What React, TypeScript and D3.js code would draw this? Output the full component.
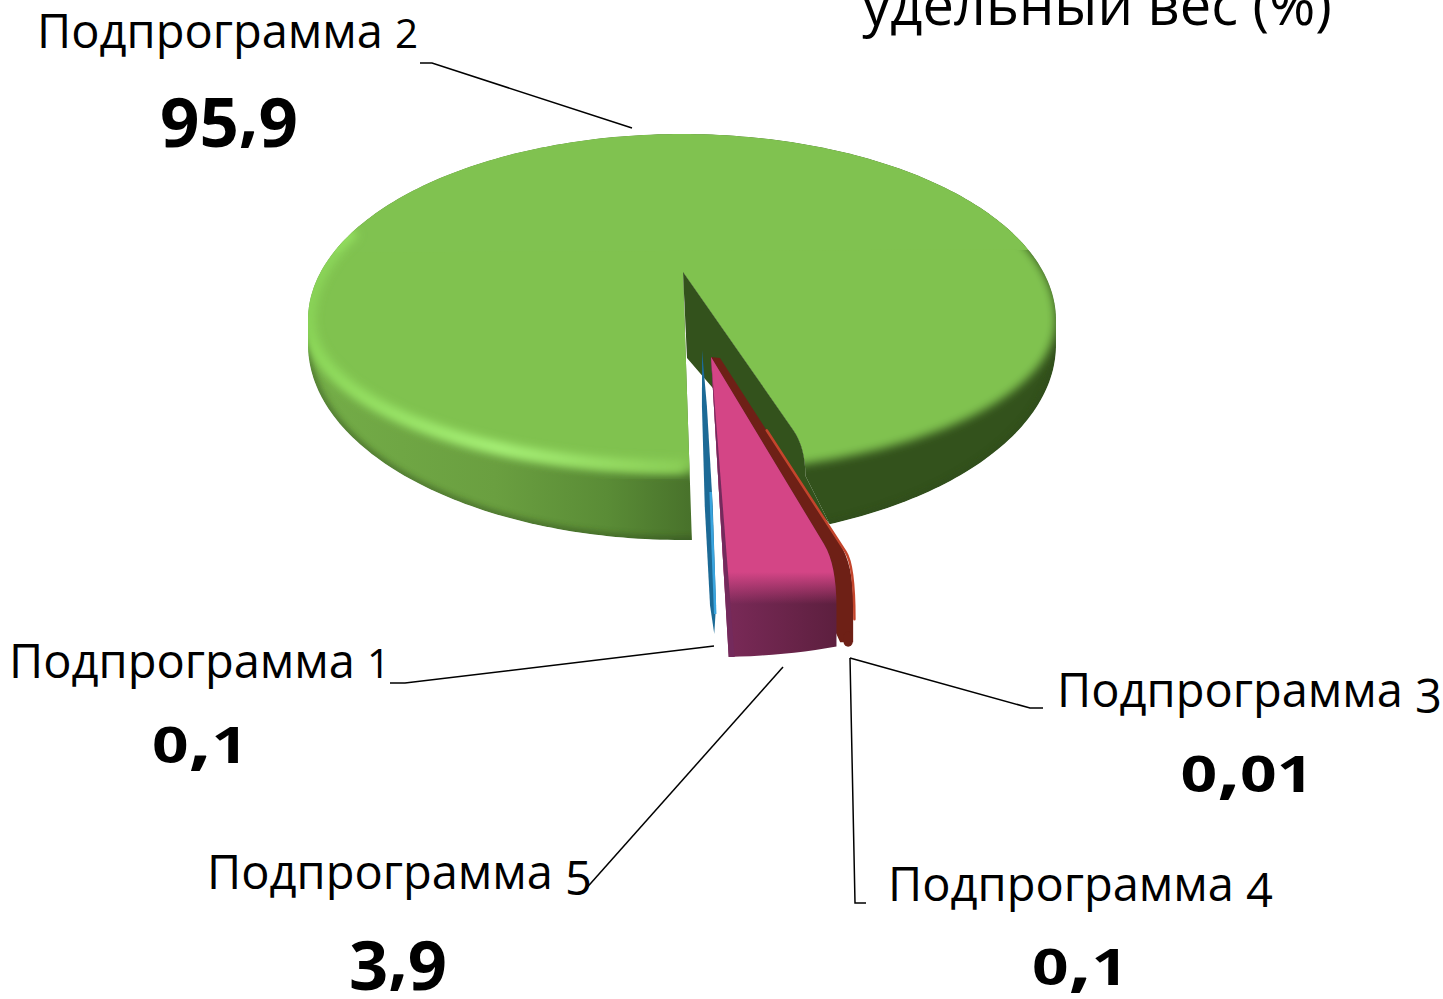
import React from 'react';
import * as d3 from 'd3';

const categories = ['Подпрограмма 1', 'Подпрограмма 2', 'Подпрограмма 3', 'Подпрограмма 4', 'Подпрограмма 5'];
const valueLabels = ['0,1', '95,9', '0,01', '0,1', '3,9'];
const values = [0.1, 95.9, 0.01, 0.1, 3.9];
const title = 'удельный вес (%)';

type P = [number, number];

const W = 1443, H = 999;
const cx = 682, cy = 320, rx = 374;
const ryBack = 186, ryRim = 152;
const baseCy = 345, baseRy = 195;
const apex: P = [683, 272];
const FONT = '"Open Sans", sans-serif';

// старт подобран так, чтобы зелёный сектор начинался у левого края выреза
const blueAngle = (2 * Math.PI * values[0]) / d3.sum(values);
const pieStart = Math.PI - 0.022 - blueAngle;
const slices = d3.pie<number>().sort(null).startAngle(pieStart).endAngle(pieStart + 2 * Math.PI)(values);

// разводим края выреза (перспектива исходной 3D-диаграммы)
const cut = (a: number) => Math.PI + ((a % (2 * Math.PI)) - Math.PI) * 1.2;
const rim = (a: number, ry: number, off: P = [0, 0]): P => {
  const c = -Math.cos(a);
  return [cx + off[0] + rx * Math.sin(a), cy + off[1] + (c < 0 ? ryBack : ry) * c];
};
const base = (a: number, off: P = [0, 0]): P => {
  const c = -Math.cos(a);
  return c < 0 ? rim(a, ryBack, off) : [cx + off[0] + rx * Math.sin(a), baseCy + off[1] + baseRy * c];
};
const lerp = (a: P, b: P, t: number): P => [a[0] + (b[0] - a[0]) * t, a[1] + (b[1] - a[1]) * t];
const add = (a: P, o: P): P => [a[0] + o[0], a[1] + o[1]];
const line = d3.line<P>();
const f = (p: P) => `${p[0]},${p[1]}`;
const turn = d3.range(0, 2 * Math.PI, 0.02);
const rimRing = line(turn.map(a => rim(a, ryRim)))! + 'Z';
const baseRing = line(turn.map(a => base(a)))! + 'Z';
// задняя часть диска без размытия, чтобы верхний край остался чистым
const backCap = line(d3.range(-1.2, 1.2, 0.02).map(a => rim(a, ryRim)))! + 'Z';

// ребро сектора со скруглённым углом
const edge = (from: P, a: number, off: P, ryEnd: number) => {
  const ctrl = rim(a, 135, off);
  return `M${f(from)}L${f(lerp(from, ctrl, 0.9))}Q${f(ctrl)} ${f(rim(a, ryEnd, off))}`;
};

const aL = cut(slices[1].startAngle);
const aR = cut(slices[1].endAngle);
const sideCorner = base(aR - 0.07);
const wallFoot = add(apex, [4, 86]);

const greenCut = `M0,0H${W}V${H}H0Z` +
  edge(apex, aR, [0, 0], 165) + `L${f(sideCorner)}L${f([sideCorner[0], 620])}L${f([base(aL)[0], 620])}L${f(base(aL))}Z`;
const wall = edge(apex, aR, [0, 0], 165) + `L${f(sideCorner)}L${f(wallFoot)}Z`;

// подпрограмма 5
const pinkOff: P = [34, 117];
const pinkApex = add(apex, [28, 85]);
const pA = cut(slices[4].startAngle), pB = cut(slices[4].endAngle);
const pinkBase = d3.range(0, 1.001, 0.1).map(t => base(pA + (pB - pA) * t, pinkOff));
const pinkPath = edge(pinkApex, pA, pinkOff, 180) + 'L' + pinkBase.map(f).join('L') + 'Z';
const pinkLeftEnd = base(pB, pinkOff);
const pinkStrip = line([pinkApex, pinkLeftEnd, add(pinkLeftEnd, [6, 0])])! + 'Z';

// подпрограммы 3 и 4
const brownOff: P = [48, 117];
const brownApex = add(apex, [37, 86]);
const brownA = cut(slices[3].startAngle);
const brownFoot = base(brownA, add(brownOff, [-3, -4]));
const brownPath = edge(brownApex, brownA, brownOff, 175) + `L${f(add(brownFoot, [3, 0]))}L${f(add(brownFoot, [-10, 0]))}L${f(pinkApex)}Z`;
const redA = cut(slices[2].startAngle);
const redPath = edge(lerp(brownApex, rim(redA, 135, brownOff), 0.35), redA, add(brownOff, [1, 1]), 192);

// подпрограмма 1
const blueApex = add(apex, [19, 78]);
const blueEnd = base(cut((slices[0].startAngle + slices[0].endAngle) / 2), [21, 94]);
const blueAt = (t: number, w: number) => add(lerp(blueApex, blueEnd, t), [w, 0]);
const bluePath = line([
  blueApex, blueAt(0.2, -2.5), blueAt(0.55, -4), blueAt(0.9, -3), blueEnd,
  blueAt(0.9, 3), blueAt(0.55, 4), blueAt(0.2, 2.5),
])! + 'Z';

const labelPos: P[] = [[9, 678], [37, 48], [1057, 707], [888, 901], [207, 889]];
const valuePos: P[] = [[200, 763], [229, 139], [1247, 792], [1080, 985], [398, 982]];
const valueWidth = [96, 138, 133, 96, 98];
const leaders: P[][] = [
  [[390, 683], [405, 683], [714, 646]],
  [[420, 63], [432, 63], [632, 128]],
  [[1043, 708], [1030, 708], [850, 658]],
  [[866, 903], [855, 903], [850, 658]],
  [[583, 892], [783, 667]],
];

// цифры исходного шрифта — старого стиля: 0, 1, 2 малые, 3, 4, 5, 9 опускаются
const OldStyle = ({ text, size, small }: { text: string; size: number; small: number }) => {
  const runs = text.match(/[012]+|[3459]+|[^0-9]+/g) || [];
  let shifted = false;
  return (
    <>
      {runs.map((run, i) => {
        const low = /[3459]/.test(run);
        const dy = low === shifted ? 0 : low ? size * 0.12 : -size * 0.12;
        shifted = low;
        return <tspan key={i} dy={dy} fontSize={/[012]/.test(run) ? size * small : size}>{run}</tspan>;
      })}
    </>
  );
};

export default function App() {
  const highlight = line(d3.range(Math.PI * 1.5 + 0.5, Math.PI - 0.02, -0.02).map(a => rim(a, 147)));
  return (
    <svg width={W} height={H} style={{ position: 'absolute', left: 0, top: 0 }}>
      <defs>
        <linearGradient id="side" gradientUnits="userSpaceOnUse" x1={308} x2={1056} y1={0} y2={0}>
          <stop offset="0" stopColor="#74ad48" />
          <stop offset="0.25" stopColor="#6a9f40" />
          <stop offset="0.4" stopColor="#5a8c36" />
          <stop offset="0.52" stopColor="#47702a" />
          <stop offset="0.65" stopColor="#33521c" />
          <stop offset="1" stopColor="#33521c" />
        </linearGradient>
        <linearGradient id="hl" gradientUnits="userSpaceOnUse" x1={308} x2={760} y1={0} y2={0}>
          <stop offset="0" stopColor="#8edb5a" />
          <stop offset="0.42" stopColor="#aaf57a" />
          <stop offset="0.8" stopColor="#8fd45a" />
          <stop offset="1" stopColor="#8fd45a" stopOpacity="0" />
        </linearGradient>
        <linearGradient id="pinkTop" gradientUnits="userSpaceOnUse" x1={0} x2={0} y1={572} y2={604}>
          <stop offset="0" stopColor="#d44586" />
          <stop offset="1" stopColor="#d44586" stopOpacity="0" />
        </linearGradient>
        <linearGradient id="pinkSide" gradientUnits="userSpaceOnUse" x1={725} x2={840} y1={0} y2={0}>
          <stop offset="0" stopColor="#7a2a58" />
          <stop offset="1" stopColor="#5c1f3e" />
        </linearGradient>
        <filter id="soft" x="-5%" y="-5%" width="110%" height="110%">
          <feGaussianBlur stdDeviation="5" />
        </filter>
        <filter id="softer" x="-5%" y="-5%" width="110%" height="110%">
          <feGaussianBlur stdDeviation="3" />
        </filter>
        <clipPath id="greenClip">
          <path d={greenCut} clipRule="evenodd" />
        </clipPath>
        <clipPath id="outer">
          <path d={baseRing} />
        </clipPath>
      </defs>

      <g clipPath="url(#greenClip)">
        <g clipPath="url(#outer)">
          <path d={baseRing} fill="url(#side)" />
          <path d={baseRing} fill="none" stroke="#2f4a1a" strokeWidth={6} opacity={0.6} filter="url(#softer)" />
          <path d={rimRing} fill="#80c250" filter="url(#soft)" />
          <path d={backCap} fill="#80c250" />
          <path d={highlight!} fill="none" stroke="url(#hl)" strokeWidth={12} filter="url(#soft)" />
        </g>
      </g>
      <path d={wall} fill="#33521c" />

      <path d={bluePath} fill="#1c6a96" />
      <line x1={blueAt(0.5, 2.5)[0]} y1={blueAt(0.5, 2.5)[1]} x2={blueAt(0.93, 1.8)[0]} y2={blueAt(0.93, 1.8)[1]} stroke="#3aa4de" strokeWidth={2.5} />

      <path d={brownPath} fill="#6e2016" />
      <line x1={brownFoot[0] - 2} y1={brownFoot[1] - 6} x2={brownFoot[0] - 2} y2={brownFoot[1]} stroke="#6e2016" strokeWidth={9} strokeLinecap="round" />
      <path d={redPath} fill="none" stroke="#c4452c" strokeWidth={2.5} strokeLinecap="round" />

      <path d={pinkPath} fill="url(#pinkSide)" />
      <path d={pinkPath} fill="url(#pinkTop)" />
      <path d={pinkStrip} fill="#742a5c" />

      {leaders.map((pts, i) => (
        <path key={i} d={line(pts)!} fill="none" stroke="#000" strokeWidth={1.5} />
      ))}

      {categories.map((c, i) => (
        <text key={c} x={labelPos[i][0]} y={labelPos[i][1]} fontFamily={FONT} fontSize={47} fill="#000">
          <OldStyle text={c} size={47} small={0.86} />
        </text>
      ))}
      {valueLabels.map((v, i) => {
        const size = i === 1 || i === 4 ? 68 : 62;
        return (
          <text key={i} x={valuePos[i][0] - valueWidth[i] / 2} y={valuePos[i][1]} fontFamily={FONT} fontWeight="bold" fontSize={size} fill="#000" textLength={valueWidth[i]} lengthAdjust="spacingAndGlyphs">
            <OldStyle text={v} size={size} small={0.8} />
          </text>
        );
      })}
      <text x={1097} y={25} textAnchor="middle" fontFamily={FONT} fontSize={56} fill="#000">{title}</text>
    </svg>
  );
}
